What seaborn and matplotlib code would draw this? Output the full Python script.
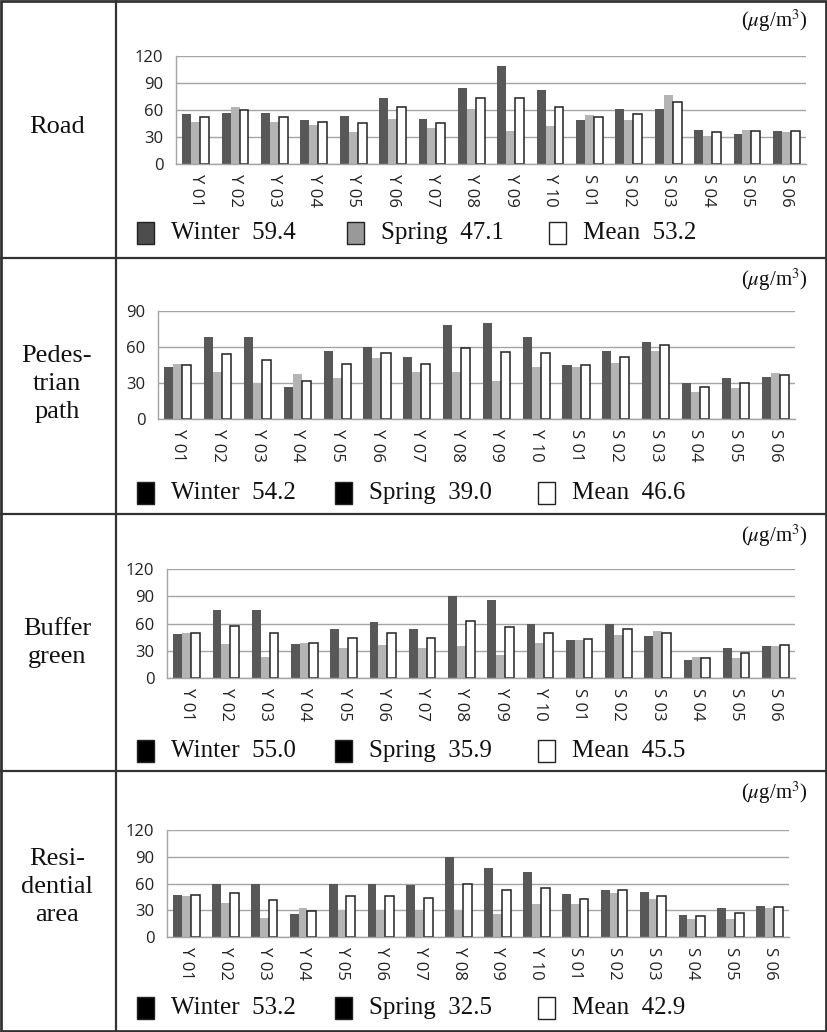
import numpy as np
import pandas as pd
import seaborn as sns
import matplotlib.pyplot as plt
from matplotlib.lines import Line2D
from matplotlib.patches import Rectangle

# sampling sites and seasons
sites = ["Y 01", "Y 02", "Y 03", "Y 04", "Y 05", "Y 06", "Y 07", "Y 08", "Y 09", "Y 10",
         "S 01", "S 02", "S 03", "S 04", "S 05", "S 06"]
seasons = ["Winter", "Spring", "Mean"]

road_winter = [55, 56, 56, 48.7, 52.7, 73, 50, 84, 108, 82, 48.7, 61, 60.8, 38, 33.7, 36]
road_spring = [47, 63, 46.5, 43.6, 35.5, 50, 39.5, 60.8, 36.6, 42, 54.6, 48.7, 76.5, 31.5, 38, 35]
road_mean = [51.6, 60, 52, 46.5, 45, 62.6, 45, 73, 73, 62.6, 52, 55.3, 69, 35, 36, 36]

ped_winter = [43.4, 68.3, 68.3, 26.6, 57, 59.8, 52, 78, 80.4, 68.3, 45, 56.8, 64, 30, 33.8, 34.9]
ped_spring = [45.5, 39.2, 30, 37.6, 34.3, 50.5, 39.2, 39.2, 31.3, 43.4, 43.6, 46.6, 57, 22.8, 25.8, 38.7]
ped_mean = [44.7, 54.3, 49, 32, 45.8, 55.4, 46, 59.5, 56, 55.4, 44.7, 52, 61.5, 27, 30, 37]

buf_winter = [48, 75, 75, 37.4, 54.2, 61.5, 54.2, 90.5, 86, 59, 41.4, 60, 45.8, 19.4, 32.6, 35.5]
buf_spring = [49.5, 37, 23, 39, 32.6, 36, 32.6, 35, 25, 38.5, 42, 47.6, 51.3, 22.7, 22.3, 35.5]
buf_mean = [49, 56.8, 49.5, 39, 44.3, 49.5, 43.6, 63, 56, 49, 42.5, 54, 49, 21.6, 27.8, 36]

res_winter = [47, 60, 60, 25.5, 59, 60, 57.8, 90, 77.8, 72.6, 47.8, 52.6, 50, 24.4, 32.2, 34.8]
res_spring = [46.3, 37.8, 21, 32, 30.7, 30.7, 30, 30.7, 26, 36.7, 37.4, 49.6, 42.6, 20.7, 20.4, 32.2]
res_mean = [47, 49.3, 41, 29.3, 46, 46, 43.3, 60, 52.6, 55.2, 43, 52.2, 46.3, 23, 26.7, 34]

row_titles = ["Road", "Pedes-\ntrian\npath", "Buffer\ngreen", "Resi-\ndential\narea"]
legend_values = [["59.4", "47.1", "53.2"], ["54.2", "39.0", "46.6"],
                 ["55.0", "35.9", "45.5"], ["53.2", "32.5", "42.9"]]
y_tops = [120, 90, 120, 120]

panels = [
    (road_winter, road_spring, road_mean),
    (ped_winter, ped_spring, ped_mean),
    (buf_winter, buf_spring, buf_mean),
    (res_winter, res_spring, res_mean),
]

sns.set_theme(style="white")
plt.rcParams["font.family"] = ["Liberation Serif", "DejaVu Serif"]
plt.rcParams["mathtext.fontset"] = "stix"

W, H = 827, 1032
fig = plt.figure(figsize=(W / 100, H / 100), dpi=100)


def fx(x):
    return x / W


def fy(y):
    return 1 - y / H


# layout of each table row (pixels)
ax_boxes = [(176, 55.5, 806, 164), (158, 311, 795, 419), (167, 569, 795, 678), (167, 830, 789, 937)]
row_centers = [127, 384, 643, 887]
unit_y = [21, 280, 536, 793]
legend_y = [233, 493, 751, 1008]
legend_x = [(137, 347, 549), (137, 335, 538), (137, 335, 538), (137, 335, 538)]

bar_colors = ["#585858", "#b4b4b4", "white"]
tick_font = dict(family="Open Sans", size=12, color="#222222")

for i, (w, s, m) in enumerate(panels):
    df = pd.DataFrame({
        "site": sites * 3,
        "season": np.repeat(seasons, len(sites)),
        "value": w + s + m,
    })
    l, t, r, b = ax_boxes[i]
    ax = fig.add_axes([fx(l), fy(b), (r - l) / W, (b - t) / H])
    sns.barplot(data=df, x="site", y="value", hue="season", palette=bar_colors,
                width=0.68, gap=0, saturation=1, linewidth=0, legend=False, ax=ax)
    for bar in ax.containers[2]:
        bar.set_edgecolor("#222222")
        bar.set_linewidth(1.1)

    ax.set_ylim(0, y_tops[i])
    ax.set_xlim(-0.5, 15.5)
    ax.yaxis.grid(True, color="#a4a4a4", lw=1)
    ax.set_axisbelow(True)
    for side in ["top", "right"]:
        ax.spines[side].set_visible(False)
    for side in ["left", "bottom"]:
        ax.spines[side].set_color("#a4a4a4")
        ax.spines[side].set_linewidth(1)
    ax.set_xlabel("")
    ax.set_ylabel("")
    ax.tick_params(axis="y", length=0, pad=9)
    ax.tick_params(axis="x", length=0, pad=7)
    yt = list(range(0, y_tops[i] + 1, 30))
    ax.set_yticks(yt)
    ax.set_yticklabels([str(v) for v in yt], fontdict=tick_font)
    ax.set_xticks(range(len(sites)))
    ax.set_xticklabels(sites, rotation=270, va="top", ha="center", fontdict=tick_font)

    # unit label
    fig.text(fx(808), fy(unit_y[i]), r"($\mu$g/m$^3$)", ha="right", va="center",
             fontsize=15, color="#111111")

    # row title
    fig.text(fx(57), fy(row_centers[i]), row_titles[i], ha="center", va="center",
             fontsize=19, linespacing=1.36, color="#111111")

    # legend
    if i == 0:
        patch_colors = ["#4d4d4d", "#999999", "white"]
    else:
        patch_colors = ["black", "black", "white"]
    for k, name in enumerate(seasons):
        bx = legend_x[i][k]
        by = legend_y[i]
        fig.patches.append(Rectangle((fx(bx), fy(by + 11)), 17 / W, 22 / H,
                                     transform=fig.transFigure, facecolor=patch_colors[k],
                                     edgecolor="#222222", lw=1))
        fig.text(fx(bx + 34), fy(by), name + "  " + legend_values[i][k],
                 ha="left", va="center", fontsize=18, color="#111111")

# table frame
line_kw = dict(transform=fig.transFigure, color="#333333", lw=1.6)
for yy in [258, 514, 771]:
    fig.add_artist(Line2D([fx(0), fx(W)], [fy(yy), fy(yy)], **line_kw))
fig.add_artist(Line2D([fx(116), fx(116)], [fy(0), fy(H)], **line_kw))
fig.add_artist(Rectangle((fx(1), fy(1031)), 825 / W, 1030 / H, transform=fig.transFigure,
                         fill=False, edgecolor="#333333", lw=2))

fig.savefig("out.png", dpi=100)
